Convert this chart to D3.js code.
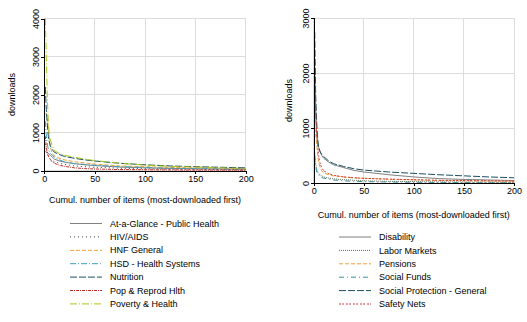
<!DOCTYPE html>
<html><head><meta charset="utf-8">
<script src="https://cdn.jsdelivr.net/npm/d3@7"></script>
<style>body{margin:0;background:#fff;} text{font-family:"Liberation Sans",Arial,sans-serif;font-size:9px;fill:#000;}</style>
</head><body>
<svg id="c" width="527" height="322"></svg>
<script>
// ---- data ----
const xsLeft = [1,2,3,4,5,6,8,10,15,20,30,40,50,75,100,125,150,175,200];
const leftNames = ["At-a-Glance - Public Health","HIV/AIDS","HNF General","HSD - Health Systems","Nutrition","Pop & Reprod Hlth","Poverty & Health"];
const atAGlance = [500,480,470,460,430,400,350,300,250,220,180,150,130,90,70,55,45,40,35];
const hivAids   = [700,550,450,400,350,300,260,230,190,160,120,100,85,60,45,35,30,25,20];
const hnfGeneral= [1500,1500,1400,1100,800,600,450,380,320,280,230,200,170,120,100,80,70,60,50];
const hsd       = [1300,900,700,550,500,450,400,350,280,230,180,160,140,100,80,60,50,40,35];
const nutrition = [2200,1600,1200,900,750,650,550,480,420,370,320,280,250,190,150,120,100,85,70];
const popReprod = [900,600,450,380,320,280,230,190,140,110,70,50,40,25,20,15,12,10,8];
const povHealth = [4000,3000,1900,1300,950,800,650,520,450,400,350,300,260,190,140,110,90,70,55];

const xsRight = [1,2,3,4,5,6,8,10,15,20,30,40,50,75,100,125,150,175,200];
const rightNames = ["Disability","Labor Markets","Pensions","Social Funds","Social Protection - General","Safety Nets"];
const disability  = [2100,1200,900,700,650,600,500,450,380,330,280,230,200,150,110,80,65,55,45];
const laborMkts   = [550,350,250,200,170,150,130,110,90,75,60,50,40,30,25,20,18,15,12];
const pensions    = [1000,900,700,500,380,300,220,180,150,130,110,95,85,70,55,45,40,35,30];
const socialFunds = [500,300,200,160,140,120,100,90,70,55,40,30,25,18,12,10,8,6,5];
const spGeneral   = [2750,1600,1100,800,650,580,520,480,400,350,300,260,235,200,175,150,130,110,95];
const safetyNets  = [1900,1300,900,650,480,380,280,220,170,140,110,95,85,70,60,50,45,40,35];

const xTicks = [0,50,100,150,200];
const yTicksLeft = [0,1000,2000,3000,4000];
const yTicksRight = [0,1000,2000,3000];
const xTitle = "Cumul. number of items (most-downloaded first)";
const yTitle = "downloads";

// ---- styles ----
const leftStyles = [
  {c:"#808080", d:null},
  {c:"#404040", d:"1,3"},
  {c:"#f0a030", d:"4,2"},
  {c:"#3aa0c0", d:"6,2,1,2"},
  {c:"#1b4f5e", d:"7,2"},
  {c:"#c0302a", d:"3,1,1,1"},
  {c:"#a8c820", d:"7,2,1,2"}
];
const rightStyles = [
  {c:"#808080", d:null},
  {c:"#607060", d:"1,1"},
  {c:"#f0a040", d:"4,2"},
  {c:"#3a90a0", d:"5,3,1,3"},
  {c:"#1b4f5e", d:"7,2"},
  {c:"#d04040", d:"2,1,2,2"}
];

const svg = d3.select("#c");

function panel(o){
  const g = svg.append("g");
  const x = d3.scaleLinear().domain([0,200]).range([o.x0,o.x1]);
  const y = d3.scaleLinear().domain([0,o.ymax]).range([o.y0,o.y1]);
  // grid
  g.selectAll(".gx").data(o.xt).enter().append("line")
    .attr("x1",d=>x(d)).attr("x2",d=>x(d)).attr("y1",o.y0).attr("y2",o.y1)
    .attr("stroke","#dcdcdc").attr("stroke-width",1).attr("shape-rendering","crispEdges");
  g.selectAll(".gy").data(o.yt).enter().append("line")
    .attr("x1",o.x0).attr("x2",o.x1).attr("y1",d=>y(d)).attr("y2",d=>y(d))
    .attr("stroke","#dcdcdc").attr("stroke-width",1).attr("shape-rendering","crispEdges");
  // series
  const line = d3.line().x((d,i)=>x(o.xs[i])).y(d=>y(d));
  o.series.forEach((s,i)=>{
    g.append("path").datum(s).attr("d",line).attr("fill","none")
      .attr("stroke",o.styles[i].c).attr("stroke-width",1)
      .attr("stroke-dasharray",o.styles[i].d);
  });
  // axes
  const xa = g.append("g").attr("transform",`translate(0,${o.y0})`)
    .call(d3.axisBottom(x).tickValues(o.xt).tickSize(3).tickPadding(2).tickFormat(d3.format("d")));
  const ya = g.append("g").attr("transform",`translate(${o.x0},0)`)
    .call(d3.axisLeft(y).tickValues(o.yt).tickSize(3).tickPadding(2).tickFormat(d3.format("d")));
  [xa,ya].forEach(a=>{
    a.select(".domain").attr("stroke","#000").attr("shape-rendering","crispEdges");
    a.selectAll(".tick line").attr("stroke","#000").attr("shape-rendering","crispEdges");
    a.selectAll("text").style("font-size","9px").attr("font-family",null);
  });
  xa.selectAll(".tick text").attr("dy","0.71em");
  ya.selectAll(".tick text").attr("transform","rotate(-90)")
    .attr("x",0).attr("y",0).attr("dy",0)
    .attr("text-anchor","middle")
    .attr("transform",d=>`translate(${-5},${0}) rotate(-90)`);
  // titles
  g.append("text").attr("x",(o.x0+o.x1)/2).attr("y",o.xtY).attr("text-anchor","middle").text(xTitle);
  g.append("text").attr("transform",`translate(${o.ytX},${(o.y0+o.y1)/2}) rotate(-90)`)
    .attr("text-anchor","middle").text(yTitle);
  // legend
  o.names.forEach((n,i)=>{
    const yy = o.legY + i*13.4;
    g.append("line").attr("x1",o.legX).attr("x2",o.legX+32).attr("y1",yy).attr("y2",yy)
      .attr("stroke",o.styles[i].c).attr("stroke-width",1).attr("stroke-dasharray",o.styles[i].d);
    g.append("text").attr("x",o.legX+40).attr("y",yy).attr("dy","0.35em").text(n);
  });
}

panel({x0:44.3,x1:245.7,y0:170.5,y1:18.5,ymax:4000,xs:xsLeft,
  series:[atAGlance,hivAids,hnfGeneral,hsd,nutrition,popReprod,povHealth],
  styles:leftStyles,names:leftNames,xt:xTicks,yt:yTicksLeft,
  xtY:203,ytX:15,legX:70,legY:223.5});
panel({x0:313.7,x1:514,y0:183,y1:18,ymax:3000,xs:xsRight,
  series:[disability,laborMkts,pensions,socialFunds,spGeneral,safetyNets],
  styles:rightStyles,names:rightNames,xt:xTicks,yt:yTicksRight,
  xtY:218,ytX:292,legX:339,legY:237});
</script>
</body></html>
